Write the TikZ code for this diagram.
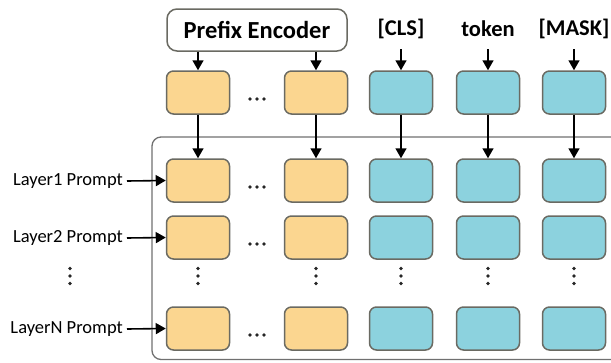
\documentclass[tikz,border=0pt]{standalone}
\usepackage{fontspec}
\setmainfont{Carlito}
\usetikzlibrary{arrows.meta}
\definecolor{orfill}{HTML}{FBD690}
\definecolor{cyfill}{HTML}{8CD2DE}
\definecolor{bxline}{HTML}{6A6A62}
\definecolor{frameline}{HTML}{707070}
\tikzset{
  cell/.style={draw=bxline, line width=1.5pt, rounded corners=7pt, minimum width=63pt, minimum height=43pt, inner sep=0pt},
  ocell/.style={fill=orfill},
  ccell/.style={fill=cyfill},
  arr/.style={-{Triangle[length=10pt,width=11pt]}, line width=1.6pt},
  lbl/.style={font=\fontsize{18.5}{20}\selectfont, inner sep=0pt},
  hdr/.style={font=\fontsize{22.5}{24}\selectfont\bfseries, inner sep=0pt},
  pehdr/.style={font=\fontsize{24.5}{26}\selectfont\bfseries, inner sep=0pt},
}
\newcommand{\vdotsat}[2]{\fill[black!85] (#1,#2-7.5) circle (1.9) (#1,#2) circle (1.9) (#1,#2+7.5) circle (1.9);}
\newcommand{\hdotsat}[2]{\fill[black!85] (#1-7,#2) circle (1.8) (#1,#2) circle (1.8) (#1+7,#2) circle (1.8);}
\begin{document}
\begin{tikzpicture}[x=1pt,y=-1pt]
\useasboundingbox (0,0) rectangle (611,362);
\clip (0,0) rectangle (611,362);
% frame
\draw[frameline, line width=1.3pt, rounded corners=9pt] (152,137) rectangle (640,359.5);
% prefix encoder
\node[draw=bxline, line width=1.5pt, rounded corners=10pt, minimum width=180pt, minimum height=42pt, pehdr] (pe) at (257,30) {Prefix Encoder};
\node[hdr] (cls) at (401,29) {[CLS]};
\node[hdr] (tok) at (488,29) {token};
\node[hdr] (mask) at (574,29) {[MASK]};
\coordinate (clsb) at (401,49);
\coordinate (tokb) at (488,49);
\coordinate (maskb) at (574,49);
% top row
\node[cell, ocell] (t1) at (198,92.5) {};
\node[cell, ocell] (t2) at (316,92.5) {};
\node[cell, ccell] (t3) at (401,92.5) {};
\node[cell, ccell] (t4) at (488,92.5) {};
\node[cell, ccell] (t5) at (574,92.5) {};
\hdotsat{257}{99}
% grid rows
\foreach \r/\y in {a/180.5, b/237.5, n/328.5}{
  \node[cell, ocell] (\r1) at (198,\y) {};
  \node[cell, ocell] (\r2) at (316,\y) {};
  \node[cell, ccell] (\r3) at (401,\y) {};
  \node[cell, ccell] (\r4) at (488,\y) {};
  \node[cell, ccell] (\r5) at (574,\y) {};
}
\hdotsat{257}{187}
\hdotsat{257}{244}
\hdotsat{257}{335}
% vertical dots
\vdotsat{70}{276}
\vdotsat{198}{276}
\vdotsat{316}{276}
\vdotsat{401}{276}
\vdotsat{488}{276}
\vdotsat{574}{276}
% labels
\node[lbl, anchor=east] (la) at (123,181) {Layer1 Prompt};
\node[lbl, anchor=east] (lb) at (123,238) {Layer2 Prompt};
\node[lbl, anchor=east] (ln) at (123,329) {LayerN Prompt};
\draw[arr] ([xshift=4pt]la.east) -- (a1.west);
\draw[arr] ([xshift=4pt]lb.east) -- (b1.west);
\draw[arr] ([xshift=4pt]ln.east) -- (n1.west);
% top arrows
\draw[arr] (pe.south -| t1) -- (t1.north);
\draw[arr] (pe.south -| t2) -- (t2.north);
\draw[arr] (clsb) -- (clsb |- t3.north);
\draw[arr] (tokb) -- (tokb |- t4.north);
\draw[arr] (maskb) -- (maskb |- t5.north);
% down arrows
\draw[arr] (t1.south) -- (a1.north);
\draw[arr] (t2.south) -- (a2.north);
\draw[arr] (t3.south) -- (a3.north);
\draw[arr] (t4.south) -- (a4.north);
\draw[arr] (t5.south) -- (a5.north);
\end{tikzpicture}
\end{document}
